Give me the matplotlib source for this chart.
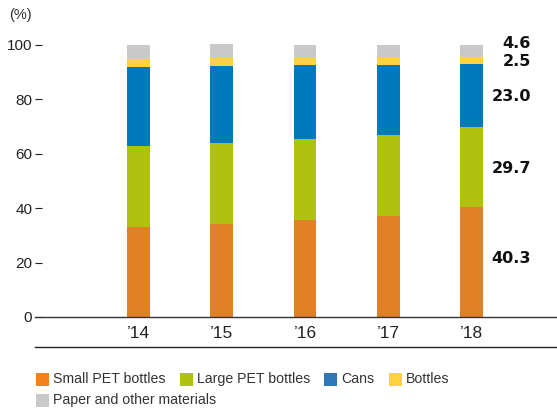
import matplotlib
matplotlib.use("Agg")
import matplotlib.pyplot as plt
import numpy as np
from matplotlib.patches import Rectangle
from matplotlib.lines import Line2D

plt.rcParams["font.family"] = ["Liberation Sans", "DejaVu Sans"]

years = ["\u201914", "\u201915", "\u201916", "\u201917", "\u201918"]
small_pet = [33.1, 34.2, 35.7, 37.1, 40.3]
large_pet = [29.8, 29.8, 29.7, 29.8, 29.7]
cans = [29.0, 28.4, 27.2, 25.7, 23.0]
bottles = [3.0, 2.9, 2.6, 3.0, 2.5]
paper = [5.1, 5.1, 4.8, 4.4, 4.6]

names = ["Small PET bottles", "Large PET bottles", "Cans", "Bottles",
         "Paper and other materials"]
colors = ["#E08027", "#AEC20F", "#007ABD", "#FFD33D", "#C8C9C8"]
legend_colors = ["#F0831F", "#AEC20F", "#2E78B5", "#FFD33D", "#C8C9C8"]

fig = plt.figure(figsize=(5.57, 4.12), dpi=100)
ax = fig.add_axes([35 / 557, 95 / 412, 522 / 557, 285.6 / 412])

x = np.arange(len(years))
series = [small_pet, large_pet, cans, bottles, paper]
bottom = np.zeros(len(years))
for vals, c in zip(series, colors):
    ax.bar(x, vals, width=0.276, bottom=bottom, color=c, linewidth=0)
    bottom += np.array(vals)

# value labels for the latest year, placed at segment middles
last = [s[-1] for s in series]
mids = np.cumsum(last) - np.array(last) / 2
nudge = [1.5, -0.6, -0.6, -0.5, 2.6]
for v, m, n in zip(last, mids, nudge):
    ax.text(4.715, m + n, f"{v:.1f}", ha="right", va="center",
            fontsize=11.5, fontweight="bold", family="DejaVu Sans",
            color="#111111")

ax.set_xlim(-1.243, 5.027)
ax.set_ylim(0, 105)
ax.set_xticks(x)
ax.set_xticklabels(years, fontsize=12.5)
ax.set_yticks([0, 20, 40, 60, 80, 100])
ax.tick_params(axis="x", length=0, pad=6.5, colors="#222222")
ax.tick_params(axis="y", direction="in", length=5, width=0.8, pad=2,
               labelsize=11, colors="#222222")
for s in ["top", "right", "left"]:
    ax.spines[s].set_visible(False)
ax.spines["bottom"].set_color("#333333")
ax.spines["bottom"].set_linewidth(1.0)

fig.text(20 / 557, 1 - 15 / 412, "(%)", ha="center", va="center",
         fontsize=10.5, color="#333333")

# separator above the legend
fig.add_artist(Line2D([35 / 557, 1], [1 - 347 / 412] * 2,
                      color="#222222", linewidth=1.0))

# legend, laid out by hand
items = [(36, 379), (180, 379), (324, 379), (389, 379), (36, 400)]
for (px, py), name, c in zip(items, names, legend_colors):
    fig.add_artist(Rectangle((px / 557, 1 - (py + 6.5) / 412), 13 / 557,
                             13 / 412, color=c, linewidth=0))
    fig.text((px + 17) / 557, 1 - py / 412, name, ha="left", va="center",
             fontsize=10.2, color="#333333")

fig.savefig("out.png", dpi=100)
